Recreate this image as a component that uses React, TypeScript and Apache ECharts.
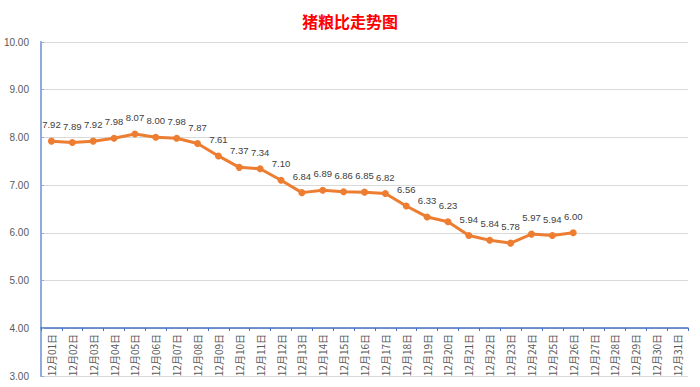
import React, { useEffect, useRef } from "react";
import * as echarts from "echarts";

const title = "猪粮比走势图";
const categories = [
  "12月01日", "12月02日", "12月03日", "12月04日", "12月05日", "12月06日", "12月07日", "12月08日",
  "12月09日", "12月10日", "12月11日", "12月12日", "12月13日", "12月14日", "12月15日", "12月16日",
  "12月17日", "12月18日", "12月19日", "12月20日", "12月21日", "12月22日", "12月23日", "12月24日",
  "12月25日", "12月26日", "12月27日", "12月28日", "12月29日", "12月30日", "12月31日",
];
const ratios: (number | null)[] = [
  7.92, 7.89, 7.92, 7.98, 8.07, 8.0, 7.98, 7.87, 7.61, 7.37, 7.34, 7.1, 6.84, 6.89, 6.86, 6.85,
  6.82, 6.56, 6.33, 6.23, 5.94, 5.84, 5.78, 5.97, 5.94, 6.0, null, null, null, null, null,
];
const yMin = 3;
const yMax = 10;
const axisCross = 4;

const FONT = "'Noto Sans CJK SC', 'Liberation Sans', sans-serif";
const NUM_FONT = "'Liberation Sans', sans-serif";

export default function App() {
  const ref = useRef<HTMLDivElement>(null);
  useEffect(() => {
    document.body.style.margin = "0";
    if (!ref.current) return;
    const chart = echarts.init(ref.current, undefined, { renderer: "svg" });
    chart.setOption({
      animation: false,
      backgroundColor: "#ffffff",
      title: {
        text: title,
        left: "center",
        top: 8,
        textStyle: { color: "#ff0000", fontSize: 16, fontWeight: "bold", fontFamily: FONT },
      },
      grid: [
        { left: 41, right: 12, top: 42, bottom: 11 },
        { left: 41, right: 12, top: 42, bottom: 59 },
      ],
      xAxis: [
        {
          type: "category",
          gridIndex: 0,
          data: categories,
          show: false,
        },
        {
          type: "category",
          gridIndex: 1,
          data: categories,
          boundaryGap: true,
          axisLine: { show: true, lineStyle: { color: "#4472c4", width: 1.5 } },
          axisTick: { show: true, length: 3, lineStyle: { color: "#4472c4" } },
          axisLabel: {
            rotate: 90,
            interval: 0,
            color: "#595959",
            fontSize: 10,
            fontFamily: FONT,
            margin: 6,
          },
        },
      ],
      yAxis: [
        {
          type: "value",
          gridIndex: 0,
          min: yMin,
          max: yMax,
          interval: 1,
          axisLine: { show: true, lineStyle: { color: "#8faadc", width: 2 } },
          axisTick: { show: true, inside: true, length: 3, lineStyle: { color: "#8faadc" } },
          axisLabel: {
            color: "#595959",
            fontSize: 10,
            fontFamily: NUM_FONT,
            margin: 12,
            formatter: (v: number) => v.toFixed(2),
          },
          splitLine: { show: true, lineStyle: { color: "#d9d9d9", width: 1 } },
        },
        {
          type: "value",
          gridIndex: 1,
          min: axisCross,
          max: yMax,
          show: false,
          splitLine: { show: false },
        },
      ],
      series: [
        {
          type: "line",
          xAxisIndex: 1,
          yAxisIndex: 1,
          data: ratios,
          connectNulls: false,
          symbol: "circle",
          symbolSize: 7,
          lineStyle: { color: "#ed7d31", width: 3 },
          itemStyle: { color: "#ed7d31" },
          label: {
            show: true,
            position: "top",
            distance: 8,
            color: "#404040",
            fontSize: 9.5,
            fontFamily: NUM_FONT,
            formatter: (p: any) => (p.value == null ? "" : Number(p.value).toFixed(2)),
          },
        },
      ],
    });
    return () => chart.dispose();
  }, []);
  return <div ref={ref} style={{ width: 700, height: 387 }} />;
}
